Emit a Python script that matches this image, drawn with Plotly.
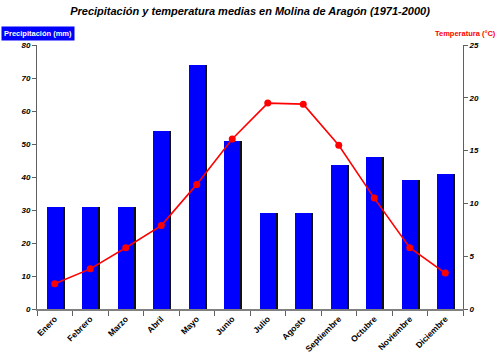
import plotly.graph_objects as go

months = ["Enero", "Febrero", "Marzo", "Abril", "Mayo", "Junio", "Julio",
          "Agosto", "Septiembre", "Octubre", "Noviembre", "Diciembre"]
precip_mm = [31, 31, 31, 54, 74, 51, 29, 29, 43.5, 46, 39, 41]
temp_c = [2.4, 3.8, 5.8, 7.9, 11.8, 16.1, 19.5, 19.4, 15.5, 10.5, 5.8, 3.4]
precip_ticks = [0, 10, 20, 30, 40, 50, 60, 70, 80]
temp_ticks = [0, 5, 10, 15, 20, 25]

FONT = "Liberation Sans, Arial, sans-serif"
BW = 0.45

fig = go.Figure()
# shadow of bars
fig.add_trace(go.Bar(x=months, y=precip_mm, width=BW, offset=-BW / 2 + 0.06,
                     marker=dict(color="#101010", line=dict(width=0)),
                     hoverinfo="skip", showlegend=False))
fig.add_trace(go.Bar(x=months, y=precip_mm, width=BW, offset=-BW / 2,
                     marker=dict(color="#0000ff", line=dict(width=0)),
                     showlegend=False, name="Precipitación"))
fig.add_trace(go.Scatter(x=months, y=temp_c, yaxis="y2", mode="lines+markers",
                         line=dict(color="#ff0000", width=1.6),
                         marker=dict(color="#ff0000", size=7),
                         showlegend=False, name="Temperatura"))

tickfont = dict(family=FONT, size=8, color="black", weight="bold", style="italic")

fig.update_layout(
    width=500, height=364,
    margin=dict(l=37, r=37, t=45, b=55),
    paper_bgcolor="white", plot_bgcolor="white",
    barmode="overlay", bargap=0.0,
    title=dict(text="Precipitación y temperatura medias en Molina de Aragón (1971-2000)",
               x=0.5, xanchor="center", y=0.97, yanchor="middle",
               font=dict(family=FONT, size=11, color="black", weight="bold", style="italic")),
    xaxis=dict(showgrid=False, showline=True, linecolor="#808080", linewidth=1.5,
               ticks="outside", ticklen=5, tickcolor="#606060",
               tickson="boundaries", tickangle=-45, automargin=False,
               tickfont=dict(family=FONT, size=8.5, color="black", weight="bold"),
               range=[-0.5, 11.5]),
    yaxis=dict(range=[0, 80], tickvals=precip_ticks, showgrid=False, zeroline=False,
               showline=True, linecolor="#606060", linewidth=1, automargin=False,
               ticks="outside", ticklen=4, tickcolor="#606060", tickfont=tickfont),
    yaxis2=dict(range=[0, 25], tickvals=temp_ticks, overlaying="y", side="right",
                showgrid=False, zeroline=False, showline=True, linecolor="#606060",
                linewidth=1, ticks="outside", ticklen=4, tickcolor="#606060",
                automargin=False, tickfont=tickfont),
    annotations=[
        dict(text="Precipitación (mm)", xref="paper", yref="paper",
             x=-36 / 426, y=(309 - 33) / 264, xanchor="left", yanchor="middle",
             showarrow=False, bgcolor="#0000ff", borderpad=2,
             font=dict(family=FONT, size=7.5, color="white", weight="bold")),
        dict(text="Temperatura (°C)", xref="paper", yref="paper",
             x=(498 - 37) / 426, y=(309 - 33) / 264, xanchor="right", yanchor="middle",
             showarrow=False,
             font=dict(family=FONT, size=7.5, color="#ff0000", weight="bold")),
    ],
)

fig.write_html("out.html", config={"displayModeBar": False},
               post_script="document.body.style.margin='0';document.body.style.overflow='hidden';")
